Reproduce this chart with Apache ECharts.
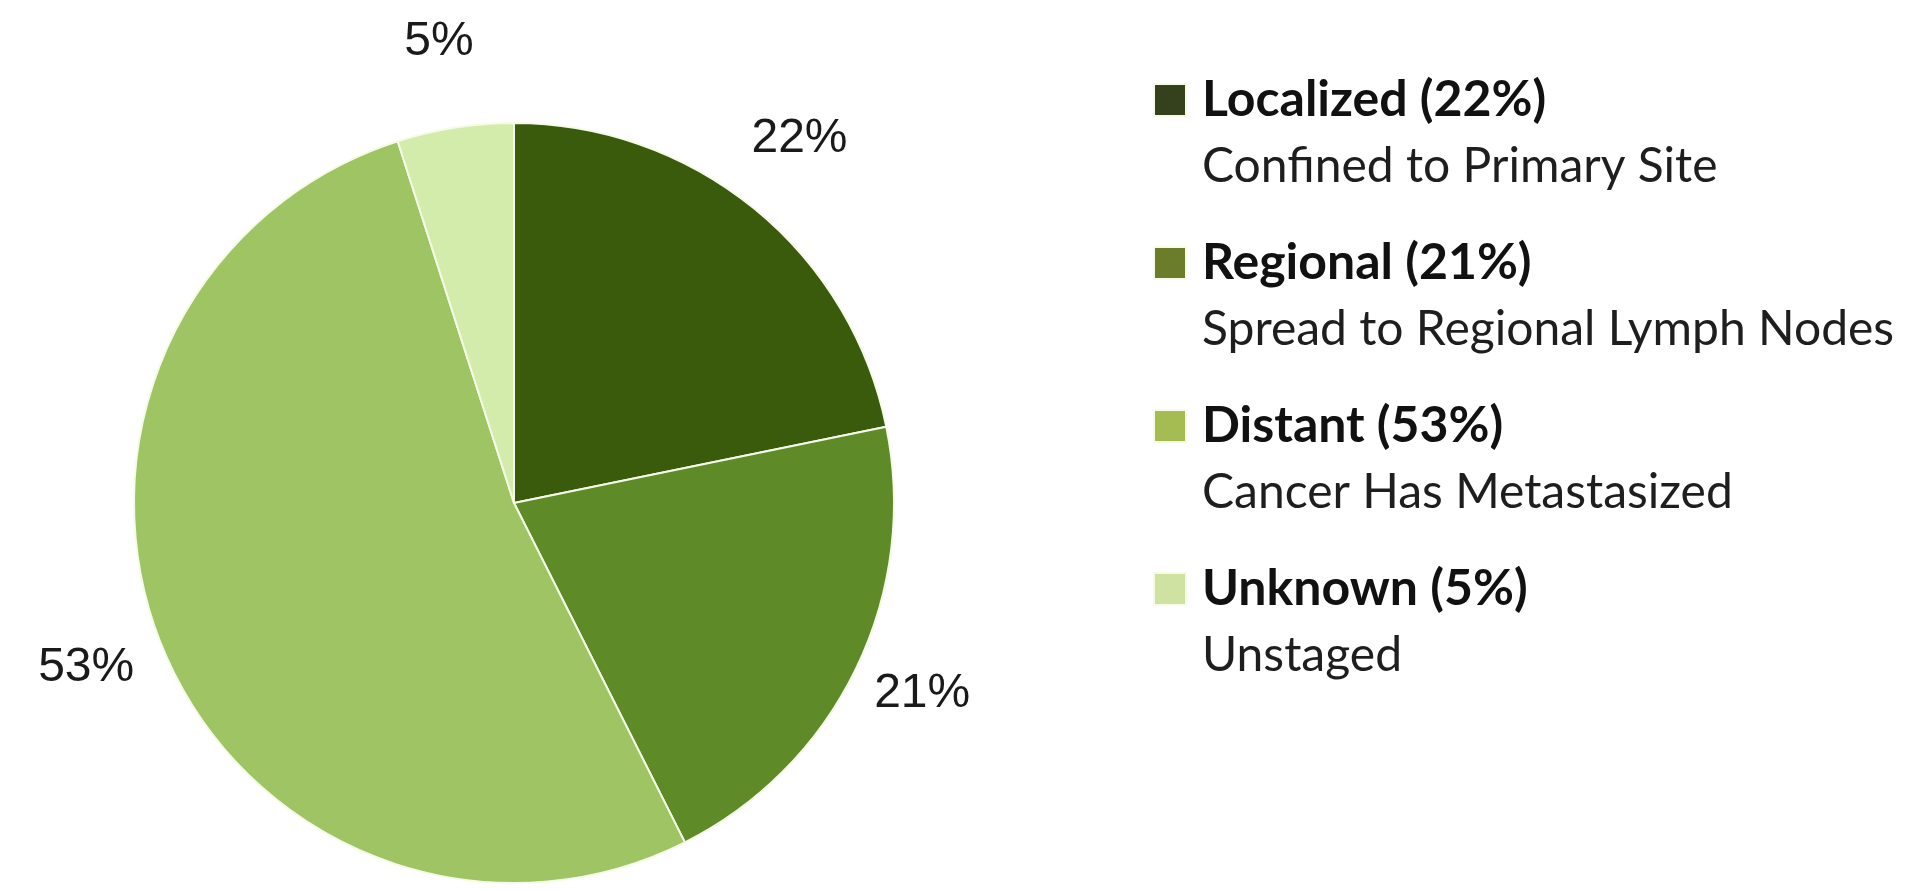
<!DOCTYPE html>
<html>
<head>
<meta charset="utf-8">
<title>Stage at Diagnosis</title>
<script src="https://cdn.jsdelivr.net/npm/echarts@6/dist/echarts.min.js"></script>
<style>
  html, body { margin: 0; padding: 0; background: #ffffff; }
  #chart { width: 1911px; height: 891px; }
</style>
</head>
<body>
<div id="chart"></div>
<script>
// Stage distribution
const stages = ['Localized', 'Regional', 'Distant', 'Unknown'];
const percents = [22, 21, 53, 5];
const descriptions = [
  'Confined to Primary Site',
  'Spread to Regional Lymph Nodes',
  'Cancer Has Metastasized',
  'Unstaged'
];
const sliceColors = ['#3a5a0c', '#5e8a28', '#9fc463', '#d3ecac'];
const legendColors = ['#35401c', '#6b7c2a', '#a5bc52', '#cfe2a2'];

const pieData = stages.map((name, i) => ({
  name: name,
  value: percents[i],
  itemStyle: { color: sliceColors[i] }
}));

const chart = echarts.init(document.getElementById('chart'), null, { renderer: 'canvas' });

chart.setOption({
  backgroundColor: '#ffffff',
  animation: false,
  legend: {
    orient: 'vertical',
    left: 1148,
    top: 70,
    icon: 'rect',
    itemWidth: 32,
    itemHeight: 32,
    itemGap: 47,
    selectedMode: false,
    data: stages.map((name, i) => ({
      name: name,
      itemStyle: { color: legendColors[i] }
    })),
    formatter: function (name) {
      const i = stages.indexOf(name);
      return '{t|' + name + ' (' + percents[i] + '%)}\n{s|' + descriptions[i] + '}';
    },
    textStyle: {
      padding: [67, 0, 0, 0],
      rich: {
        t: {
          fontFamily: 'Lato',
          fontWeight: 'bold',
          fontSize: 50,
          color: '#111111',
          lineHeight: 67,
          padding: [0, 0, 0, 11]
        },
        s: {
          fontFamily: 'Lato',
          fontSize: 48,
          color: '#1e1e1e',
          lineHeight: 67,
          padding: [0, 0, 0, 11]
        }
      }
    }
  },
  series: [
    {
      // the pie itself
      type: 'pie',
      center: [514, 503],
      radius: [0, 380],
      startAngle: 90,
      clockwise: true,
      silent: true,
      label: { show: false },
      labelLine: { show: false },
      itemStyle: { borderColor: '#f6fbe8', borderWidth: 2 },
      data: pieData
    },
    {
      // transparent ring carrying the percentage labels around the pie
      type: 'pie',
      center: [510, 494],
      radius: [428, 482],
      startAngle: 90,
      clockwise: true,
      silent: true,
      itemStyle: { color: 'rgba(0,0,0,0)', borderWidth: 0 },
      labelLine: { show: false },
      label: {
        show: true,
        position: 'inside',
        formatter: '{c}%',
        fontFamily: 'Liberation Sans',
        fontSize: 48,
        color: '#1a1a1a'
      },
      data: stages.map((name, i) => ({ name: name, value: percents[i] }))
    }
  ]
});
</script>
</body>
</html>
